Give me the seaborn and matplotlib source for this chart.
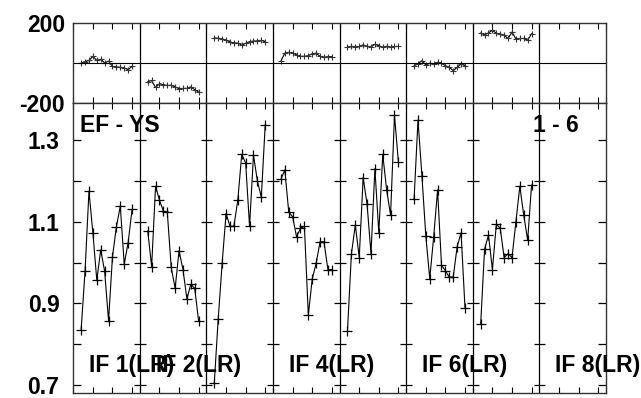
import numpy as np
import pandas as pd
import matplotlib
matplotlib.use("Agg")
import matplotlib.pyplot as plt
import seaborn as sns

# phase (top) and amplitude ratio (bottom) per IF, 14 channels each
channels = np.arange(2, 16)
nchan_span = 17
n_panels = 8

phase = [
    [3, 8, 14, 34, 15, 20, 2, 11, -15, -18, -20, -23, -32, -15],
    [-92, -86, -121, -102, -107, -111, -110, -118, -127, -126, -125, -118, -132, -144],
    [127, 125, 122, 116, 107, 102, 101, 91, 100, 108, 111, 112, 115, 107],
    [12, 50, 55, 52, 42, 35, 35, 38, 48, 50, 35, 30, 33, 33],
    [80, 85, 82, 84, 92, 85, 82, 95, 88, 80, 85, 80, 84, 84],
    [-12, -3, 13, -8, 0, -3, 5, 0, -12, -20, -37, -20, -3, -12],
    [152, 142, 152, 165, 150, 147, 140, 124, 156, 122, 124, 124, 115, 148],
]
amp = [
    [0.836, 0.979, 1.175, 1.073, 0.957, 1.031, 0.979, 0.858, 1.014, 1.088, 1.138, 0.996, 1.049, 1.130],
    [1.078, 0.990, 1.187, 1.153, 1.126, 1.123, 0.988, 0.937, 1.029, 0.983, 0.911, 0.947, 0.937, 0.856],
    [0.706, 0.863, 0.998, 1.120, 1.089, 1.089, 1.153, 1.265, 1.244, 1.089, 1.263, 1.200, 1.160, 1.338],
    [1.204, 1.227, 1.124, 1.112, 1.063, 1.084, 1.089, 0.871, 0.960, 0.998, 1.051, 1.051, 0.983, 0.983],
    [0.833, 1.021, 1.092, 1.012, 1.208, 1.143, 1.022, 1.230, 1.073, 1.265, 1.178, 1.116, 1.361, 1.246],
    [1.155, 1.349, 1.213, 1.065, 0.961, 1.062, 1.178, 0.994, 0.980, 0.964, 0.965, 1.039, 1.073, 0.889],
    [0.849, 1.033, 1.067, 0.983, 1.094, 1.084, 1.012, 1.022, 1.012, 1.100, 1.187, 1.116, 1.055, 1.190],
]
if_labels = {0: "IF 1(LR)", 1: "IF 2(LR)", 3: "IF 4(LR)", 5: "IF 6(LR)", 7: "IF 8(LR)"}

rows = []
for p in range(len(amp)):
    for c, ph, a in zip(channels, phase[p], amp[p]):
        rows.append({"panel": p, "x": p * nchan_span + c, "phase": ph, "amp": a})
df = pd.DataFrame(rows)

sns.set_style("ticks")
plt.rcParams["font.family"] = ["Liberation Sans", "DejaVu Sans"]
plt.rcParams["font.weight"] = "bold"
plt.rcParams["text.color"] = "black"
plt.rcParams["xtick.color"] = "black"
plt.rcParams["ytick.color"] = "black"
plt.rcParams["xtick.labelcolor"] = "black"
plt.rcParams["ytick.labelcolor"] = "black"

fig = plt.figure(figsize=(6.41, 3.98), dpi=100)
left, right = 73.3 / 641, 606 / 641
ax1 = fig.add_axes([left, 1 - 103.3 / 398, right - left, 80 / 398])
ax2 = fig.add_axes([left, 1 - 393.3 / 398, right - left, 290 / 398])

xmax = n_panels * nchan_span
minor = [p * nchan_span + k for p in range(n_panels) for k in (5, 10, 15)]

sns.lineplot(data=df, x="x", y="phase", units="panel", estimator=None, ax=ax1,
             color="k", lw=0.8, marker="+", markersize=5, markeredgewidth=0.8,
             markeredgecolor="#333333", legend=False)
sns.lineplot(data=df, x="x", y="amp", units="panel", estimator=None, ax=ax2,
             color="k", lw=0.8, marker="+", markersize=6.5, markeredgewidth=0.9,
             markeredgecolor="k", legend=False)

bounds = np.arange(1, n_panels) * nchan_span
for ax in (ax1, ax2):
    ax.set_xlim(0, xmax)
    for b in bounds:
        ax.axvline(b, color="k", lw=0.9)
    ax.set_xticks(list(np.arange(0, xmax + 1, nchan_span)) + minor)
    ax.tick_params(axis="x", direction="in", top=True, bottom=True, length=4,
                   labelbottom=False, width=0.8)
    ax.set_xlabel("")
    ax.set_ylabel("")
    for s in ax.spines.values():
        s.set_color("#333333")
        s.set_linewidth(1.0)

ax1.set_ylim(-200, 200)
ax1.axhline(0, color="k", lw=0.8)
ax1.set_yticks([-200, 200])
ax1.set_yticklabels(["-200", "200"], fontsize=16.5, fontweight="bold")
ax1.tick_params(axis="y", length=0, pad=6)

ax2.set_ylim(0.68, 1.39)
yt = [0.7, 0.8, 0.9, 1.0, 1.1, 1.2, 1.3]
ax2.set_yticks(yt)
ax2.set_yticklabels(["0.7", "", "0.9", "", "1.1", "", "1.3"], fontsize=16.5, fontweight="bold")
ax2.tick_params(axis="y", direction="in", left=True, right=True, length=6, width=0.9, pad=10)
for b in bounds:
    ax2.hlines(yt, b - 1.5, b + 1.5, color="k", lw=0.9)

ax2.text(0.013, 0.902, "EF - YS", transform=ax2.transAxes, fontsize=16.5,
         fontweight="bold", ha="left", va="baseline")
ax2.text(0.863, 0.902, "1 - 6", transform=ax2.transAxes, fontsize=16.5,
         fontweight="bold", ha="left", va="baseline")
for p, lab in if_labels.items():
    ax2.text(p * nchan_span + 4, 0.731, lab, fontsize=16.5, fontweight="bold",
             ha="left", va="baseline")

fig.savefig("out.png", dpi=100)
